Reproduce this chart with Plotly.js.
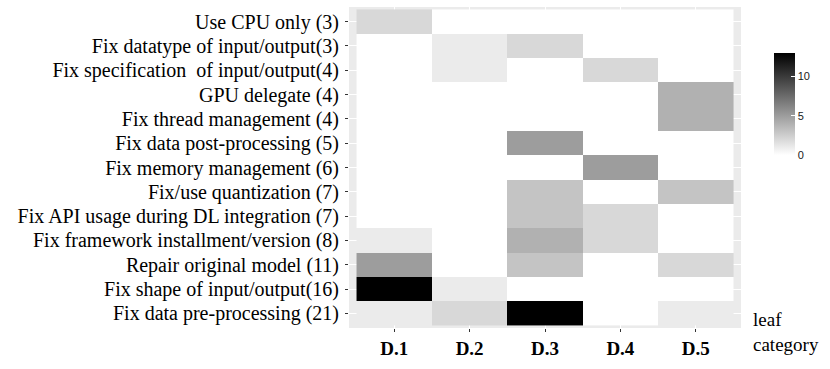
<!DOCTYPE html>
<html>
<head>
<meta charset="utf-8">
<script src="https://cdn.plot.ly/plotly-3.0.1.min.js"></script>
<style>
  html, body { margin: 0; padding: 0; background: #fff; }
  #chart { width: 830px; height: 369px; }
</style>
</head>
<body>
<div id="chart"></div>
<script>
'use strict';

// Rows, top to bottom
const fixCategories = [
  'Use CPU only (3)',
  'Fix datatype of input/output(3)',
  'Fix specification\u00a0 of input/output(4)',
  'GPU delegate (4)',
  'Fix thread management (4)',
  'Fix data post-processing (5)',
  'Fix memory management (6)',
  'Fix/use quantization (7)',
  'Fix API usage during DL integration (7)',
  'Fix framework installment/version (8)',
  'Repair original model (11)',
  'Fix shape of input/output(16)',
  'Fix data pre-processing (21)'
];

const leafCategories = ['D.1', 'D.2', 'D.3', 'D.4', 'D.5'];

// Counts per leaf category, one value per row above
const d1 = [2, 0, 0, 0, 0, 0, 0, 0, 0, 1, 5, 13, 1];
const d2 = [0, 1, 1, 0, 0, 0, 0, 0, 0, 0, 0, 1, 2];
const d3 = [0, 2, 0, 0, 0, 5, 0, 3, 3, 4, 3, 0, 13];
const d4 = [0, 0, 2, 0, 0, 0, 5, 0, 2, 2, 0, 0, 0];
const d5 = [0, 0, 0, 4, 4, 0, 0, 3, 0, 0, 2, 0, 1];

const columns = [d1, d2, d3, d4, d5];
const z = fixCategories.map((_, r) => columns.map(col => col[r]));

const serif = 'Liberation Serif, Times New Roman, serif';

const data = [{
  type: 'heatmap',
  x: leafCategories,
  y: fixCategories,
  z: z,
  zmin: 0,
  zmax: 13,
  colorscale: [[0, '#ffffff'], [1, '#000000']],
  hoverinfo: 'none',
  colorbar: {
    title: {text: ''},
    thickness: 21,
    thicknessmode: 'pixels',
    len: 102,
    lenmode: 'pixels',
    x: 1.084,
    xanchor: 'left',
    y: 0.698,
    yanchor: 'middle',
    outlinewidth: 0,
    tickvals: [0, 5, 10],
    ticks: 'inside',
    ticklen: 4,
    tickcolor: '#ffffff',
    tickfont: {family: 'Liberation Sans, Arial, sans-serif', size: 11, color: '#1a1a1a'},
    xpad: 0,
    ypad: 0
  }
}];

const layout = {
  width: 830,
  height: 369,
  margin: {l: 349, r: 89, t: 6.5, b: 40.5, pad: 0},
  paper_bgcolor: '#ffffff',
  plot_bgcolor: '#ebebeb',
  xaxis: {
    type: 'category',
    range: [-0.6, 4.6],
    showgrid: true,
    gridcolor: '#ffffff',
    gridwidth: 1,
    zeroline: false,
    showline: false,
    ticks: 'outside',
    ticklen: 3,
    tickcolor: '#333333',
    tickfont: {family: serif, size: 19, color: '#000000', weight: 'bold'},
    fixedrange: true
  },
  yaxis: {
    type: 'category',
    range: [12.6, -0.6],
    showgrid: true,
    gridcolor: '#ffffff',
    gridwidth: 1,
    zeroline: false,
    showline: false,
    ticks: 'outside',
    ticklen: 3,
    tickcolor: '#333333',
    ticklabelstandoff: 2,
    tickfont: {family: serif, size: 20, color: '#000000'},
    fixedrange: true
  },
  annotations: [{
    text: 'leaf<br>category',
    xref: 'paper',
    yref: 'paper',
    x: 1.026,
    y: -0.013,
    xanchor: 'left',
    yanchor: 'middle',
    align: 'left',
    showarrow: false,
    font: {family: serif, size: 19, color: '#000000'}
  }]
};

Plotly.newPlot('chart', data, layout, {displayModeBar: false, staticPlot: true});
</script>
</body>
</html>
